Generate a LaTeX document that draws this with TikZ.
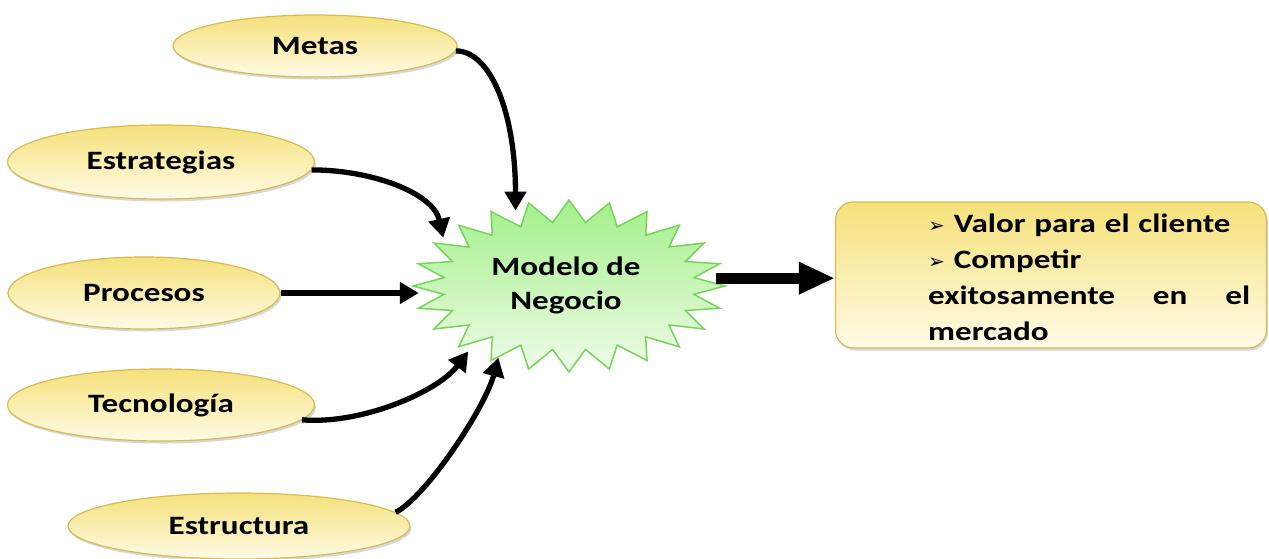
\documentclass[tikz,border=0pt]{standalone}
\usepackage{fontspec}
\setmainfont{Carlito}[FakeStretch=1.25]
\newfontfamily\symfont{DejaVu Sans}
\usetikzlibrary{arrows.meta,shadows,shapes.geometric}
\definecolor{ovaltop}{HTML}{F5E17A}
\definecolor{ovalbot}{HTML}{FFFBE6}
\definecolor{ovalline}{HTML}{D6BC55}
\definecolor{bursttop}{HTML}{A3F08A}
\definecolor{burstbot}{HTML}{F0FCE9}
\definecolor{burstline}{HTML}{78D35C}
\tikzset{
  oval/.style={ellipse, draw=ovalline, line width=1.2pt, top color=ovaltop, bottom color=ovalbot,
    inner sep=0pt, font=\fontsize{26.5}{30}\selectfont\bfseries,
    drop shadow={shadow xshift=1.5pt, shadow yshift=-2.5pt, opacity=0.3}},
  conn/.style={line width=5.3pt, -{Triangle[length=19pt,width=21pt]}},
  bigarrow/.style={line width=11pt, -{Triangle[length=36pt,width=30pt]}},
  resultbox/.style={rectangle, rounded corners=18pt, draw=ovalline, line width=1.2pt,
    top color=ovaltop, bottom color=ovalbot, inner sep=0pt,
    drop shadow={shadow xshift=1.5pt, shadow yshift=-2.5pt, opacity=0.3}},
  bodytext/.style={font=\fontsize{26.5}{36}\selectfont\bfseries}
}
\newcommand{\arrowbullet}{{\symfont\fontsize{20}{20}\selectfont ➢}}
\begin{document}
\begin{tikzpicture}[x=1pt,y=-1pt]
\useasboundingbox (0,0) rectangle (1269,558);
\fill[white] (0,0) rectangle (1269,558);

% ovals
\node[oval, minimum width=284, minimum height=62] (metas) at (315,46) {Metas};
\node[oval, minimum width=307, minimum height=74] (estrategias) at (161,162) {Estrategias};
\node[oval, minimum width=272, minimum height=72] (procesos) at (144,293) {Procesos};
\node[oval, minimum width=307, minimum height=72] (tecnologia) at (161,405) {Tecnología};
\node[oval, minimum width=342, minimum height=66] (estructura) at (239,526) {Estructura};

% starburst
\fill[top color=bursttop, bottom color=burstbot, draw=burstline, line width=1.5pt, line join=miter]
  ({569+156},286)
  \foreach \i [evaluate=\i as \rx using {mod(\i,2)==0?156:126},
               evaluate=\i as \ry using {mod(\i,2)==0?86:64}] in {1,...,47}
  { -- ({569+\rx*cos(\i*7.5)},{286+\ry*sin(\i*7.5)}) } -- cycle;
\node[ellipse, minimum width=300, minimum height=176, inner sep=0pt] (burst) at (569,286) {};
\node[align=center, font=\fontsize{26.5}{34}\selectfont\bfseries] (bursttext) at (566,285) {Modelo de\\Negocio};

% result box
\node[resultbox, minimum width=431, minimum height=146] (box) at (1051,275) {};
\node[bodytext, anchor=west, inner sep=0pt, text width=322pt, align=left] (boxtext) at (928,277)
  {\arrowbullet{} Valor para el cliente\\
   \arrowbullet{} Competir\\
   exitosamente\hfill en\hfill el\\
   mercado};

% connectors
\draw[conn, shorten >=-7pt] (metas.-2) .. controls +(35,0) and +(0,-90) .. (burst.123.4);
\draw[conn] (estrategias.-3) .. controls +(60,0) and +(-10,-45) .. (burst.159.6);
\draw[conn] (procesos.east) -- (procesos.east -| burst.west);
\draw[conn] (tecnologia.-6) .. controls +(60,5) and +(-30,40) .. (burst.213.2);
\draw[conn, shorten >=-6pt] (estructura.5) .. controls +(30,-15) and +(-12,45) .. (burst.227.8);
\draw[bigarrow, shorten <=-3pt] (burst.3) -- (burst.3 -| box.west);
\end{tikzpicture}
\end{document}
